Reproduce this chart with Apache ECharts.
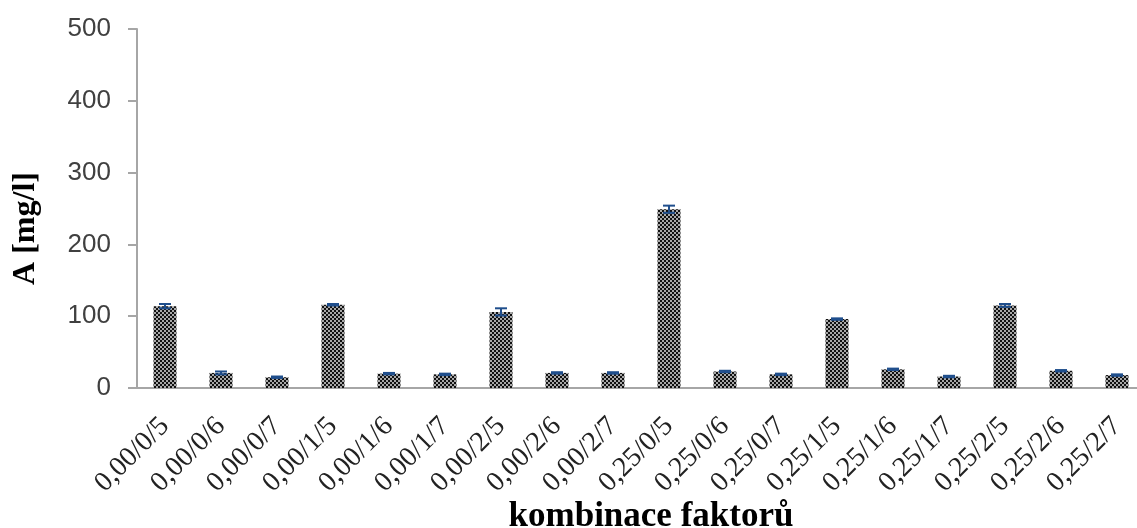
<!DOCTYPE html>
<html>
<head>
<meta charset="utf-8">
<script src="https://cdn.jsdelivr.net/npm/echarts@6/dist/echarts.min.js"></script>
<style>
html,body{margin:0;padding:0;background:#fff;}
#chart{width:1137px;height:528px;}
</style>
</head>
<body>
<div id="chart"></div>
<script>
// ---- data ----
const categories = ["0,00/0/5","0,00/0/6","0,00/0/7","0,00/1/5","0,00/1/6","0,00/1/7","0,00/2/5","0,00/2/6","0,00/2/7",
                    "0,25/0/5","0,25/0/6","0,25/0/7","0,25/1/5","0,25/1/6","0,25/1/7","0,25/2/5","0,25/2/6","0,25/2/7"];
const values = [114, 21, 15, 116, 20, 19, 106, 21, 21, 249, 23, 19, 96, 26, 16, 115, 24, 18];
const errors = [3, 2, 1, 1, 1, 1, 5, 1, 1, 5, 1, 1, 1, 1, 1, 2, 1, 1];
const yTicks = [0, 100, 200, 300, 400, 500];
const xTitle = "kombinace faktorů";
const yTitle = "A [mg/l]";

// ---- pattern ----
const tile = document.createElement('canvas');
tile.width = 4; tile.height = 4;
const tc = tile.getContext('2d');
tc.fillStyle = '#a8a8a8'; tc.fillRect(0, 0, 4, 4);
tc.fillStyle = '#111111';
tc.fillRect(0, 0, 2, 2);
tc.fillRect(2, 2, 2, 2);

const chart = echarts.init(document.getElementById('chart'), null, {renderer: 'canvas'});
const option = {
  animation: false,
  backgroundColor: '#ffffff',
  grid: {left: 137, right: -8, top: 29, bottom: 140, containLabel: false, outerBoundsMode: 'none'},
  xAxis: {
    type: 'category',
    data: categories,
    boundaryGap: true,
    axisLine: {show: true, lineStyle: {color: '#a6a6a6', width: 2}},
    axisTick: {show: false},
    axisLabel: {
      rotate: 45, margin: 34, interval: 0,
      fontFamily: 'Liberation Serif', fontSize: 28, color: '#222'
    },
    name: xTitle,
    nameLocation: 'middle',
    nameGap: 111,
    nameMoveOverlap: false,
    nameTextStyle: {fontFamily: 'Liberation Serif', fontWeight: 'bold', fontSize: 35, color: '#000', padding: [0, 0, 0, 20]}
  },
  yAxis: {
    type: 'value',
    min: yTicks[0], max: yTicks[yTicks.length - 1], interval: 100,
    splitLine: {show: false},
    axisLine: {show: true, lineStyle: {color: '#a6a6a6', width: 2}},
    axisTick: {show: true, inside: false, length: 9, lineStyle: {color: '#a6a6a6', width: 2}},
    axisLabel: {margin: 26, fontFamily: 'Liberation Sans', fontSize: 26, color: '#404040'},
    name: yTitle,
    nameLocation: 'middle',
    nameGap: 95,
    nameMoveOverlap: false,
    nameTextStyle: {fontFamily: 'Liberation Serif', fontWeight: 'bold', fontSize: 32, color: '#000', padding: [0, 40, 0, 0]}
  },
  series: [
    {
      type: 'bar',
      data: values,
      barWidth: 23,
      itemStyle: {color: {image: tile, repeat: 'repeat'}}
    },
    {
      type: 'custom',
      data: values.map((v, i) => [i, v, errors[i]]),
      z: 10,
      renderItem: function (params, api) {
        const i = api.value(0), v = api.value(1), e = api.value(2);
        const top = api.coord([i, v + e]);
        const bot = api.coord([i, v - e]);
        const hw = 6;
        const style = {stroke: '#1f4e8c', lineWidth: 2, fill: null};
        return {
          type: 'group',
          children: [
            {type: 'line', shape: {x1: top[0], y1: top[1], x2: bot[0], y2: bot[1]}, style: style},
            {type: 'line', shape: {x1: top[0] - hw, y1: top[1], x2: top[0] + hw, y2: top[1]}, style: style},
            {type: 'line', shape: {x1: bot[0] - hw, y1: bot[1], x2: bot[0] + hw, y2: bot[1]}, style: style}
          ]
        };
      }
    }
  ]
};
chart.setOption(option);
</script>
</body>
</html>
